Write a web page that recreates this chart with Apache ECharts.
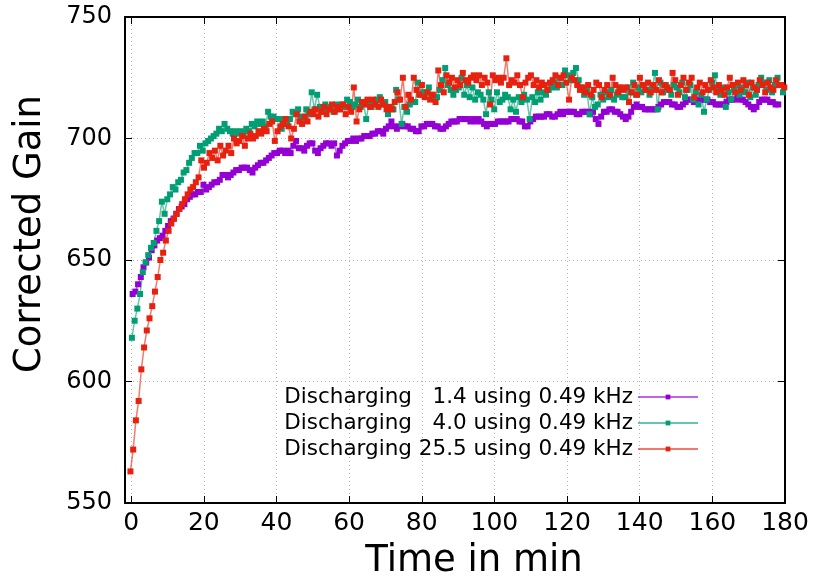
<!DOCTYPE html>
<html><head><meta charset="utf-8">
<script src="https://cdn.jsdelivr.net/npm/echarts@6/dist/echarts.min.js"></script>
<style>html,body{margin:0;padding:0;background:#fff}#c{width:817px;height:577px}</style>
</head><body><div id="c"></div>
<script>
// ---- data ----
const seriesNames = [
  'Discharging   1.4 using 0.49 kHz',
  'Discharging   4.0 using 0.49 kHz',
  'Discharging 25.5 using 0.49 kHz'
];
const sampleStep = 0.75; // minutes between samples
const startPurple = 0.4, startGreen = 0.2, startRed = -0.2;
const gainPurple = [
 636,637,640,643,647,649,651,654, 656,658,659,660,662,664,666,667,
 669,671,672,673,675,676,677,677, 678,678,681,679,680,681,682,682,
 683,685,685,684,685,686,687,687, 688,688,688,687,686,688,689,690,
 690,691,692,693,694,694,695,695, 694,695,694,697,699,696,696,695,
 697,698,698,695,694,696,697,698, 698,697,698,693,695,697,698,699,
 699,700,699,700,700,701,701,701, 702,702,703,703,702,704,705,707,
 705,704,705,706,705,705,704,704, 703,703,705,705,706,706,706,705,
 705,704,704,705,706,707,707,707, 708,708,708,708,707,708,707,708,
 707,706,705,706,706,706,707,707, 707,707,707,708,708,708,707,707,
 705,705,707,708,709,709,709,709, 710,710,709,709,710,711,710,711,
 711,711,711,710,710,711,711,711, 710,711,708,706,709,711,711,712,
 712,711,711,710,709,708,709,711, 713,714,713,713,712,712,712,712,
 712,713,714,715,715,715,714,714, 713,713,714,715,716,716,715,715,
 716,716,716,716,715,715,714,714, 714,714,715,716,716,716,717,716,
 716,715,714,713,712,713,715,716, 716,716,715,715,714,714
];
const gainGreen = [
 618,625,630,636,645,649,652,655, 657,662,666,674,669,675,677,680,
 679,682,683,686,687,690,692,694, 694,697,695,698,699,700,701,702,
 704,703,706,704,703,702,703,702, 703,702,704,703,706,705,707,706,
 707,705,711,709,709,708,708,704, 708,707,708,711,710,712,709,708,
 712,710,719,712,718,713,711,714, 712,713,711,714,712,714,713,716,
 715,713,714,716,713,715,708,714, 713,715,716,717,714,715,710,713,
 712,720,716,706,713,711,714,715, 715,723,718,719,719,721,718,717,
 717,720,724,729,722,720,718,720, 721,725,718,722,717,721,716,719,
 718,716,710,719,716,712,719,715, 716,718,717,712,716,711,717,715,
 718,716,708,717,715,719,716,719, 718,720,721,723,721,725,722,728,
 726,724,727,729,724,721,718,720, 710,717,713,714,718,716,719,717,
 720,716,718,721,717,717,721,719, 723,718,721,719,722,720,718,721,
 727,712,723,719,722,720,718,722, 721,719,723,717,720,722,716,719,
 714,718,711,716,720,723,726,720, 718,721,713,719,716,720,722,718,
 721,719,723,717,721,718,722,725, 723,720,724,719,722,725,722,719
];
const gainRed = [
 563,572,584,592,605,614,621,626, 631,637,643,650,653,658,662,665,
 667,669,671,673,675,677,679,680, 682,684,691,688,690,694,692,695,
 691,697,693,695,697,694,700,698, 699,701,697,700,702,700,701,703,
 702,704,703,706,707,699,703,705, 706,708,705,700,704,710,707,706,
 709,707,711,710,712,709,711,713, 710,712,714,711,713,712,714,710,
 713,711,721,707,712,715,714,716, 713,716,714,713,716,714,712,713,
 712,715,719,716,725,713,718,716, 725,720,718,722,717,719,716,718,
 715,728,722,719,726,723,725,721, 724,722,727,724,723,725,726,724,
 726,722,725,723,714,726,724,725, 723,725,733,722,724,723,726,722,
 717,723,725,726,722,724,721,723, 722,720,723,724,726,722,725,726,
 723,716,725,724,722,720,721,719, 722,718,720,723,722,717,720,722,
 718,725,722,719,721,720,721,715, 719,722,718,725,722,720,723,719,
 722,720,724,719,722,721,720,727, 724,718,722,725,720,723,725,717,
 721,723,719,722,720,724,721,719, 722,720,718,721,725,722,719,723,
 720,724,722,718,723,721,720,724, 722,719,723,721,720,724,722,722,
 721
];
const xTicks = [0,20,40,60,80,100,120,140,160,180];
const yTicks = [550,600,650,700,750];

// ---- build ----
function pairs(start, vals){ return vals.map((v,i)=>[+(start + i*sampleStep).toFixed(2), v]); }
const colors = ['#9400d3','#009e73','#e8210f'];
const FONT = 'DejaVu Sans';
function mkSeries(name, data, color){
  return {
    name, type:'line', data, xAxisIndex:0, yAxisIndex:0,
    symbol:'rect', symbolSize:6, showSymbol:true,
    lineStyle:{color, width:1.5, opacity:0.6},
    itemStyle:{color},
    emphasis:{disabled:true}, animation:false
  };
}
const chart = echarts.init(document.getElementById('c'), null, {renderer:'canvas'});
const axisLine = {show:true, onZero:false, lineStyle:{color:'#000', width:2}};
const tick = {show:true, inside:true, length:7, lineStyle:{color:'#000', width:1}};
const grid = {show:true, lineStyle:{color:'#b4b4b4', type:[1,3], width:1}};
chart.setOption({
  animation:false,
  color: colors,
  grid:{left:125, right:32, top:17, bottom:74, containLabel:false, outerBoundsMode:'none'},
  legend:{
    orient:'vertical', right:113, top:379, align:'right',
    itemWidth:60, itemHeight:6, itemGap:0,
    textStyle:{fontFamily:FONT, fontSize:21.5, color:'#000', lineHeight:26},
    data: seriesNames
  },
  xAxis:[{
    type:'value', min:-1.7, max:180, splitNumber:9, position:'bottom',
    axisLine, axisTick:tick, splitLine:grid,
    axisLabel:{fontFamily:FONT, fontSize:25, color:'#000', margin:8, showMinLabel:false,
      formatter:v=> xTicks.indexOf(Math.round(v*100)/100)>=0 ? String(v) : ''},
    name:'Time in min', nameLocation:'middle', nameGap:40,
    nameTextStyle:{fontFamily:FONT, fontSize:37, color:'#000', padding:[0,0,0,38]}
  },{
    type:'value', min:-1.7, max:180, splitNumber:9, position:'top',
    axisLine, axisTick:tick, splitLine:{show:false}, axisLabel:{show:false}
  }],
  yAxis:[{
    type:'value', min:yTicks[0], max:yTicks[yTicks.length-1], interval:50, position:'left',
    axisLine, axisTick:tick, splitLine:grid,
    axisLabel:{fontFamily:FONT, fontSize:24, color:'#000', margin:13},
    name:'Corrected Gain', nameLocation:'middle', nameGap:76, nameRotate:90,
    nameTextStyle:{fontFamily:FONT, fontSize:37, color:'#000', padding:[0,0,0,52]}
  },{
    type:'value', min:yTicks[0], max:yTicks[yTicks.length-1], interval:50, position:'right',
    axisLine, axisTick:tick, splitLine:{show:false}, axisLabel:{show:false}
  }],
  series:[
    mkSeries(seriesNames[0], pairs(startPurple, gainPurple), colors[0]),
    mkSeries(seriesNames[1], pairs(startGreen, gainGreen), colors[1]),
    mkSeries(seriesNames[2], pairs(startRed, gainRed), colors[2])
  ]
});
</script></body></html>
